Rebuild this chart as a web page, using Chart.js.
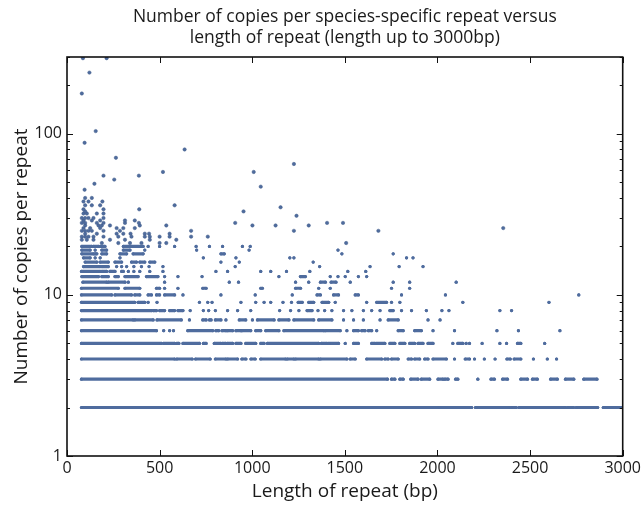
<!DOCTYPE html>
<html>
<head>
<meta charset="utf-8">
<script src="https://cdn.jsdelivr.net/npm/chart.js@4.4.0/dist/chart.umd.min.js"></script>
<style>
  html, body { margin: 0; padding: 0; background: #fff; }
</style>
</head>
<body>
<canvas id="myChart" width="644" height="512"></canvas>
<script>
// copies per repeat vs repeat length
// each row: [start, end] = run of dots along that copy number, single number = lone dot (bp)

var runs2 = [[78,2005],[2012,2185],[2205,2390],[2398,2425],[2440,2690],[2700,2735],[2748,2865],[2895,2998]];
var runs3 = [[78,1730],[1752,1770],[1797,1815],[1856,1895],[1913,1958],[2003,2030],[2040,2057],[2098,2110],2218,[2289,2307],[2352,2378],[2450,2486],[2513,2539],[2611,2647],[2691,2736],[2790,2861]];
var runs4 = [[78,581],[593,676],[694,773],[801,858],[867,921],[944,966],[993,1016],[1046,1180],[1189,1225],[1234,1359],[1368,1511],[1529,1556],[1618,1699],[1716,1734],[1752,1788],[1842,1860],[1877,1904],[1931,1949],[1976,2048],2092,[2150,2173],2200,2253,2311,[2375,2393],[2414,2450],2518,2593,2643];
var runs5 = [[78,509],[522,581],[593,604],[626,715],[736,751],[795,831],[840,858],[867,894],[912,939],[965,1019],[1046,1064],[1082,1359],[1373,1404],[1413,1466],1502,[1547,1573],[1645,1663],[1672,1716],[1743,1770],[1797,1824],[1850,1877],[1895,1922],[1949,1976],2083,[2110,2137],2155,2173,2241,2337,2373,[2432,2450],2579];
var runs6 = [[78,483],522,554,575,[652,787],[804,819],[837,858],[867,894],[912,939],[944,992],[1019,1046],[1073,1144],[1171,1386],[1395,1475],1511,[1547,1573],[1591,1609],[1627,1645],1672,[1788,1815],[1877,1913],1976,2092,2321,2437,2661];
var runs7 = [[78,357],[366,465],[486,617],661,[733,751],[769,778],[801,831],858,[930,965],1001,[1028,1118],[1144,1198],[1225,1332],[1359,1430],1493,1547,1600,1690,[1734,1788],1949,2014];
var runs8 = [[78,331],[339,456],[465,483],[500,527],[554,581],[599,626],665,736,765,801,867,921,992,1148,1207,1252,[1296,1323],1355,1391,1430,1493,1538,1600,1645,1690,[1743,1761],1806,1860,1940,2024,2062,2337,2400];
var runs9 = [[78,366],[384,420],438,486,715,760,783,939,1019,1064,1100,1166,1212,[1248,1270],[1305,1332],[1377,1413],1448,1618,[1672,1725],1752,1797,2137,2602];
var runs10 = [[78,241],[259,348],[366,393],[438,456],[483,500],[527,581],626,831,1016,1216,[1350,1368],[1439,1466],[1556,1573],1806,2043,2763];
var runs11 = [[78,277],[313,393],[483,500],527,599,[733,751],[1046,1055],[1234,1261],1359,1421,1752,1850];
var runs12 = [[86,214],[223,313],331,527,876,926,1234,1305,[1368,1395],[1426,1452],1529,1761,1850,2101];
var runs13 = [[80,170],[188,223],[259,277],[313,384],[429,491],527,599,729,1144,[1260,1287],1421,1463,1502,1573,1618];
var runs14 = [[78,179],[188,214],[232,259],[295,304],331,361,393,447,518,804,867,1046,1100,1185,1311,1516,1613];
var runs15 = [[89,179],[188,223],268,295,322,361,402,443,518,908,1364,1636,1793,1922];
var runs16 = [[98,161],[179,223],[259,295],[348,375],[393,420],[447,474],831,930,1329];
var runs17 = [[89,125],152,179,286,736,912,1203,1225,1833,1868];
var runs18 = [[80,143],[152,161],[188,214],[286,322],[357,411],[831,849],1484,1761];
var runs19 = [[80,125],152,[188,214],[304,340],420,700,983,1463];
var runs20 = [[80,134],[143,170],[179,205],[304,340],[348,411],438,500,581,697,769,840,947,989];

var rowLevels = [2,3,4,5,6,7,8,9,10,11,12,13,14,15,16,17,18,19,20];
var rowRuns = [runs2,runs3,runs4,runs5,runs6,runs7,runs8,runs9,runs10,runs11,runs12,runs13,runs14,runs15,runs16,runs17,runs18,runs19,runs20];

// scattered points above 20 copies: [length, copies]
var sparsePoints = [
  [188,21],[277,21],[340,21],[402,21],[500,21],[536,21],[1507,21],
  [80,22],[107,22],[143,22],[232,22],[313,22],[447,22],[590,22],
  [80,23],[98,23],[116,23],[143,23],[197,23],[277,23],[348,23],[420,23],[447,23],[500,23],[554,23],[670,23],[760,23],
  [98,24],[161,24],[268,24],[304,24],[343,24],[420,24],[443,24],[554,24],
  [80,25],[98,25],[116,25],[134,25],[197,25],[286,25],[670,25],[1225,25],[1681,25],
  [89,26],[125,26],[179,26],[268,26],[304,26],[366,26],[2355,26],
  [98,27],[170,27],[188,27],[232,27],[393,27],[536,27],[1001,27],[1126,27],[1305,27],
  [80,28],[98,28],[161,28],[197,28],[313,28],[388,28],[908,28],[1404,28],[1490,28],
  [89,29],[134,29],[179,29],[313,29],[366,29],
  [80,30],[98,30],[116,30],[143,30],[197,30],
  [1239,31],
  [89,32],[107,32],[161,32],[197,32],
  [98,33],[953,33],
  [89,34],[197,34],[390,34],
  [1153,35],
  [98,36],[134,36],[179,36],[581,36],
  [89,38],[116,38],[191,38],
  [98,40],[134,40],
  [95,45],[1046,47],[148,49],[255,52],[197,55],[388,55],[518,58],[1008,58],
  [1225,65],[264,71],[635,80],[95,88],[155,104],[80,178],[121,240],[86,295],[214,295]
];

var xTickValues = [0,500,1000,1500,2000,2500,3000];
var yTickValues = [1,10,100];
var yMinorTicks = [2,3,4,5,6,7,8,9,20,30,40,50,60,70,80,90,200,300];

var titleLines = ['Number of copies per species-specific repeat versus', 'length of repeat (length up to 3000bp)'];
var xTitle = 'Length of repeat (bp)';
var yTitle = 'Number of copies per repeat';

var dotColor = '#4f6c9e';

// runs -> line data with breaks
var runData = [];
rowLevels.forEach(function (lvl, i) {
  rowRuns[i].forEach(function (r) {
    if (Array.isArray(r)) {
      runData.push({x: r[0], y: lvl}, {x: r[1], y: lvl});
      runData.push({x: r[1], y: null});
    } else {
      runData.push({x: r, y: lvl}, {x: r, y: null});
    }
  });
});

var sparseData = sparsePoints.map(function (p) { return {x: p[0], y: p[1]}; });

var decor = {
  id: 'decor',
  afterDraw: function (chart) {
    var ctx = chart.ctx, a = chart.chartArea, xs = chart.scales.x, ys = chart.scales.y;
    ctx.save();
    ctx.strokeStyle = '#111';
    ctx.lineWidth = 1;
    ctx.beginPath();
    xTickValues.forEach(function (v) {
      var px = Math.round(xs.getPixelForValue(v)) + 0.5;
      ctx.moveTo(px, a.bottom); ctx.lineTo(px, a.bottom - 6);
      ctx.moveTo(px, a.top); ctx.lineTo(px, a.top + 6);
    });
    yTickValues.forEach(function (v) {
      var py = Math.round(ys.getPixelForValue(v)) + 0.5;
      ctx.moveTo(a.left, py); ctx.lineTo(a.left + 6, py);
      ctx.moveTo(a.right, py); ctx.lineTo(a.right - 6, py);
    });
    yMinorTicks.forEach(function (v) {
      var py = Math.round(ys.getPixelForValue(v)) + 0.5;
      ctx.moveTo(a.left, py); ctx.lineTo(a.left + 3, py);
      ctx.moveTo(a.right, py); ctx.lineTo(a.right - 3, py);
    });
    ctx.stroke();

    ctx.lineWidth = 1.6;
    ctx.strokeRect(a.left, a.top, a.right - a.left, a.bottom - a.top);

    ctx.fillStyle = '#1a1a1a';
    ctx.textAlign = 'center';
    ctx.textBaseline = 'middle';
    var cx = (a.left + a.right) / 2;
    ctx.font = '17.5px "Open Sans"';
    ctx.fillText(titleLines[0], cx, 17);
    ctx.fillText(titleLines[1], cx, 38);
    ctx.font = '19px "Open Sans"';
    ctx.fillText(xTitle, cx, 492);
    ctx.translate(22, (a.top + a.bottom) / 2);
    ctx.rotate(-Math.PI / 2);
    ctx.fillText(yTitle, 0, 0);
    ctx.restore();
  }
};

var ctx1 = document.getElementById('myChart').getContext('2d');
var myChart = new Chart(ctx1, {
  type: 'scatter',
  data: {
    datasets: [{
      label: 'runs',
      data: runData,
      showLine: true,
      spanGaps: false,
      borderColor: dotColor,
      borderWidth: 3.2,
      borderCapStyle: 'round',
      backgroundColor: dotColor,
      pointRadius: 1.6,
      pointBorderWidth: 0
    }, {
      label: 'sparse',
      data: sparseData,
      backgroundColor: dotColor,
      borderColor: '#3f5a88',
      pointRadius: 1.7,
      pointBorderWidth: 0.5
    }]
  },
  options: {
    responsive: false,
    animation: false,
    layout: { padding: { top: 57, right: 18, left: 0, bottom: 0 } },
    plugins: {
      legend: { display: false },
      tooltip: { enabled: false }
    },
    scales: {
      x: {
        type: 'linear',
        min: 0,
        max: 3000,
        afterFit: function (s) { s.height = 56; },
        afterBuildTicks: function (s) { s.ticks = xTickValues.map(function (v) { return {value: v}; }); },
        grid: { display: false, drawTicks: false },
        border: { display: false },
        ticks: {
          color: '#1a1a1a',
          font: { family: 'Open Sans', size: 16 },
          padding: 3,
          maxRotation: 0,
          callback: function (v) { return String(v); }
        }
      },
      y: {
        type: 'logarithmic',
        min: 1,
        max: 300,
        afterFit: function (s) { s.width = 67; },
        afterBuildTicks: function (s) { s.ticks = yTickValues.map(function (v) { return {value: v}; }); },
        grid: { display: false, drawTicks: false },
        border: { display: false },
        ticks: {
          color: '#1a1a1a',
          font: { family: 'Open Sans', size: 16 },
          padding: 5,
          callback: function (v) { return String(v); }
        }
      }
    }
  },
  plugins: [decor]
});
</script>
</body>
</html>
